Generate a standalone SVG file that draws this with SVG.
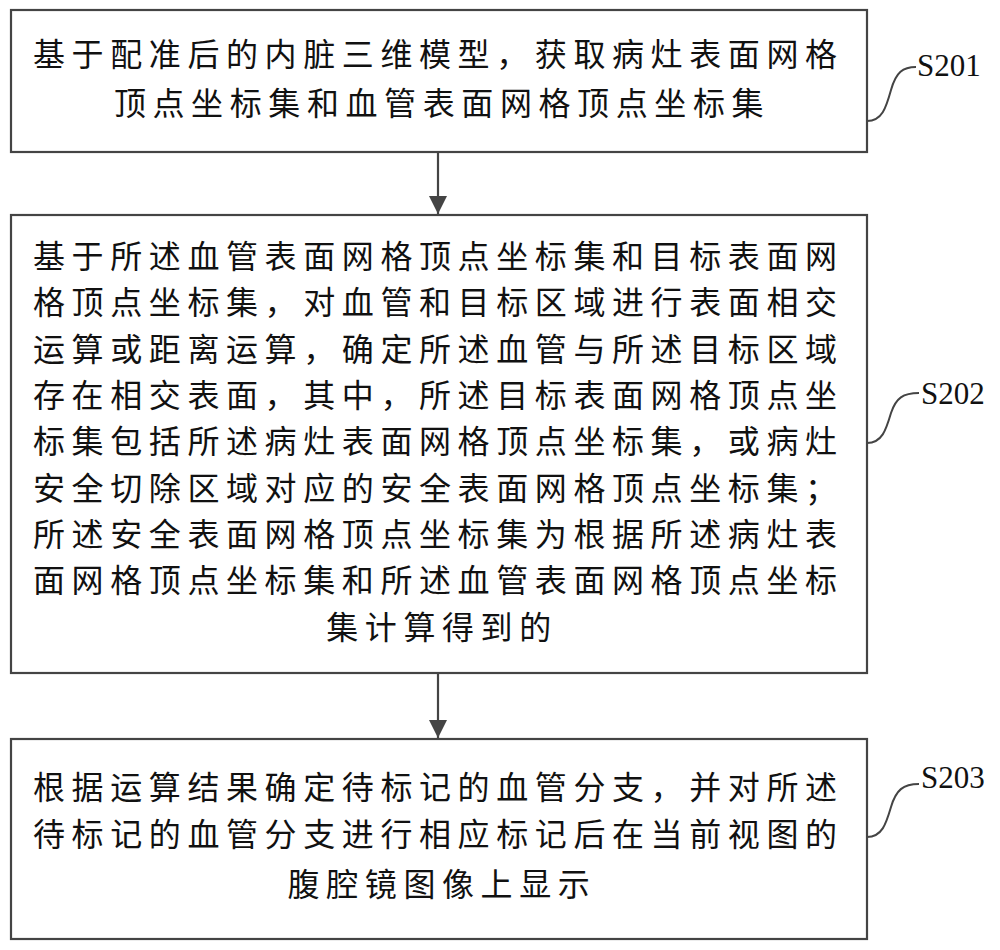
<svg xmlns="http://www.w3.org/2000/svg" width="1000" height="950" viewBox="0 0 1000 950">
<defs>
<style>
.box{fill:#fff;stroke:#444;stroke-width:2.2}
.t{font-family:"Noto Sans CJK SC","Noto Sans CJK JP",sans-serif;font-size:32px;fill:#111;letter-spacing:6.6px}
.c{text-anchor:middle}
.lbl{font-family:"Liberation Serif",serif;font-size:31px;fill:#111}
.conn{stroke:#444;stroke-width:2.2;fill:none}
.lead{stroke:#444;stroke-width:2;fill:none}
</style>
<marker id="ah" markerWidth="20" markerHeight="18" refX="18" refY="9" orient="auto" markerUnits="userSpaceOnUse">
<path d="M0,0 L18,9 L0,18 Z" fill="#444"/>
</marker>
</defs>
<rect width="1000" height="950" fill="#fff"/>
<g id="connectors">
<line class="conn" x1="438" y1="152" x2="438" y2="214" marker-end="url(#ah)"/>
<line class="conn" x1="438" y1="673" x2="438" y2="738" marker-end="url(#ah)"/>
<path class="lead" d="M867,121 C882,121 886,108 891,90 C896,72 903,67 916,67"/>
<path class="lead" d="M867,443 C882,443 886,430 891,413 C896,398 903,393 919,393"/>
<path class="lead" d="M867,837 C882,837 886,824 891,807 C896,790 903,784 919,784"/>
</g>
<g id="s201">
<rect class="box" x="11" y="10" width="856" height="142"/>
<text class="t" x="33" y="66">基于配准后的内脏三维模型，获取病灶表面网格</text>
<text class="t c" x="442" y="115">顶点坐标集和血管表面网格顶点坐标集</text>
<text class="lbl" x="917" y="76">S201</text>
</g>
<g id="s202">
<rect class="box" x="11" y="215" width="856" height="458"/>
<text class="t" x="33" y="268">基于所述血管表面网格顶点坐标集和目标表面网</text>
<text class="t" x="33" y="314">格顶点坐标集，对血管和目标区域进行表面相交</text>
<text class="t" x="33" y="361">运算或距离运算，确定所述血管与所述目标区域</text>
<text class="t" x="33" y="407">存在相交表面，其中，所述目标表面网格顶点坐</text>
<text class="t" x="33" y="453">标集包括所述病灶表面网格顶点坐标集，或病灶</text>
<text class="t" x="33" y="500">安全切除区域对应的安全表面网格顶点坐标集；</text>
<text class="t" x="33" y="546">所述安全表面网格顶点坐标集为根据所述病灶表</text>
<text class="t" x="33" y="592">面网格顶点坐标集和所述血管表面网格顶点坐标</text>
<text class="t c" x="442" y="639">集计算得到的</text>
<text class="lbl" x="921" y="404">S202</text>
</g>
<g id="s203">
<rect class="box" x="11" y="739" width="856" height="200"/>
<text class="t" x="33" y="799">根据运算结果确定待标记的血管分支，并对所述</text>
<text class="t" x="33" y="846">待标记的血管分支进行相应标记后在当前视图的</text>
<text class="t c" x="442" y="896">腹腔镜图像上显示</text>
<text class="lbl" x="921" y="788">S203</text>
</g>
</svg>
